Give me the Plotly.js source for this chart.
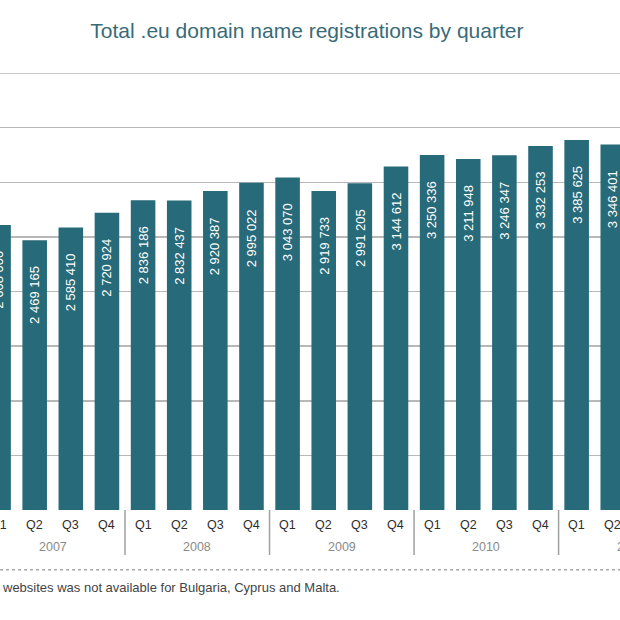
<!DOCTYPE html>
<html>
<head>
<meta charset="utf-8">
<script src="https://cdn.plot.ly/plotly-3.0.1.min.js"></script>
<style>
  html, body { margin: 0; padding: 0; background: #fff; }
  #chart { width: 620px; height: 620px; }
</style>
</head>
<body>
<div id="chart"></div>
<script>
// quarterly totals, Q1 2007 .. Q2 2011 (Q1 2007 estimated, label cut off)
const years = ["2007", "2008", "2009", "2010", "2011"];
const quarters = ["Q1", "Q2", "Q3", "Q4", "Q1", "Q2", "Q3", "Q4", "Q1", "Q2", "Q3", "Q4",
  "Q1", "Q2", "Q3", "Q4", "Q1", "Q2"];
const registrations = [2608000, 2469165, 2585410, 2720924, 2836186, 2832437, 2920387, 2995022,
  3043070, 2919733, 2991205, 3144612, 3250336, 3211948, 3246347, 3332253, 3385625, 3346401];
const gridValues = [500000, 1000000, 1500000, 2000000, 2500000, 3000000, 3500000, 4000000];
const footnote = "websites was not available for Bulgaria, Cyprus and Malta.";

const TEAL = "#276a79";
const FONT = "Liberation Sans, Arial, sans-serif";
const X_RANGE = [0.04, 17.2];

const xs = registrations.map((_, i) => i);

function spaced(v) {
  return String(v).replace(/\B(?=(\d{3})+(?!\d))/g, " ");
}

// annotations on xref "x" vanish once their anchor leaves the range,
// so the cut-off edge labels go on paper coords instead
function toPaper(i) {
  return (i - X_RANGE[0]) / (X_RANGE[1] - X_RANGE[0]);
}

const barLabels = registrations.map((v, i) => ({
  x: toPaper(i), y: v, xref: "paper", yref: "y",
  text: spaced(v), showarrow: false, textangle: -90,
  xanchor: "center", yanchor: "top", yshift: -24,
  font: { family: FONT, size: 13, color: "#ffffff" },
}));

const quarterLabels = quarters.map((q, i) => ({
  x: toPaper(i), y: -0.035, xref: "paper", yref: "paper",
  text: q, showarrow: false, xanchor: "center", yanchor: "middle",
  font: { family: FONT, size: 12.5, color: "#2e2e2e" },
}));

const yearLabels = years.map((yr, k) => ({
  x: toPaper(k * 4 + 1.5), y: -0.085, xref: "paper", yref: "paper",
  text: yr, showarrow: false, xanchor: "center", yanchor: "middle",
  font: { family: FONT, size: 12.5, color: "#8a8a8a" },
}));

const separators = years.slice(1).map((_, k) => ({
  type: "line", xref: "x", yref: "paper",
  x0: (k + 1) * 4 - 0.5, x1: (k + 1) * 4 - 0.5, y0: 0, y1: -0.103,
  line: { color: "#a0a0a0", width: 1.5 },
}));

const data = [{
  type: "bar",
  x: xs,
  y: registrations,
  width: 0.68,
  marker: { color: TEAL, line: { width: 0 } },
  hoverinfo: "skip",
}];

const layout = {
  width: 620,
  height: 620,
  margin: { l: 0, r: 0, t: 73, b: 110 },
  paper_bgcolor: "#ffffff",
  plot_bgcolor: "#ffffff",
  showlegend: false,
  font: { family: FONT, color: "#333" },
  title: {
    text: "Total .eu domain name registrations by quarter",
    x: 0.495, xanchor: "center", y: 0.951, yanchor: "middle",
    font: { family: FONT, size: 21, color: "#386b78" },
  },
  xaxis: {
    range: X_RANGE,
    showticklabels: false,
    ticks: "",
    showgrid: false,
    zeroline: false,
    showline: false,
    fixedrange: true,
  },
  yaxis: {
    range: [0, 4000000],
    tickmode: "array",
    tickvals: gridValues,
    showticklabels: false,
    ticks: "",
    showgrid: true,
    gridcolor: "#b8b8b8",
    gridwidth: 1.5,
    zeroline: false,
    showline: false,
    fixedrange: true,
  },
  shapes: [
    ...separators,
    {
      // top gridline sits on the plot edge, draw it explicitly
      type: "line", xref: "paper", yref: "y",
      x0: 0, x1: 1, y0: gridValues[gridValues.length - 1], y1: gridValues[gridValues.length - 1],
      line: { color: "#b8b8b8", width: 1.5 },
    },
    {
      type: "line", xref: "paper", yref: "paper",
      x0: 0, x1: 1, y0: -0.137, y1: -0.137,
      line: { color: "#aaaaaa", width: 1.5, dash: "dot" },
    },
  ],
  annotations: [
    ...barLabels,
    ...quarterLabels,
    ...yearLabels,
    {
      x: 0, y: -0.178, xref: "paper", yref: "paper",
      text: footnote, showarrow: false, xanchor: "left", yanchor: "middle",
      font: { family: FONT, size: 13, color: "#444" },
    },
  ],
};

Plotly.newPlot("chart", data, layout, { displayModeBar: false, staticPlot: true });
</script>
</body>
</html>
